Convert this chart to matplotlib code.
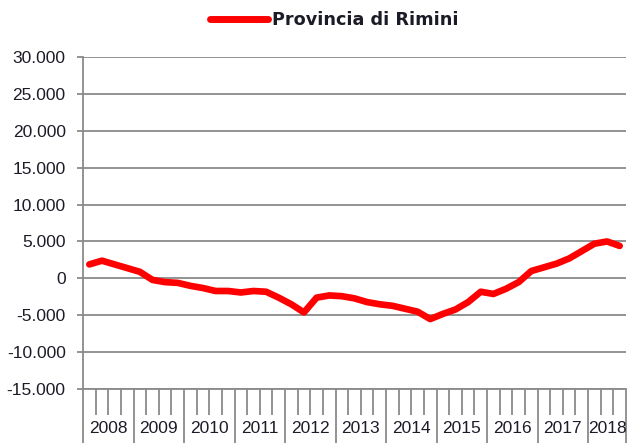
#!/usr/bin/env python3
# -*- coding: utf-8 -*-

"""
Quarterly balance line, Provincia di Rimini (2008 Q1 - 2018 Q3)
"""

import numpy as np
import matplotlib
matplotlib.use('Agg')
import matplotlib.pyplot as plt
from matplotlib.ticker import FuncFormatter, FixedLocator
import matplotlib.transforms as mtransforms

# data, one value per quarter
years = ['2008', '2009', '2010', '2011', '2012', '2013',
         '2014', '2015', '2016', '2017', '2018']
quarters_per_year = [4, 4, 4, 4, 4, 4, 4, 4, 4, 4, 3]
rimini = [1900, 2400, 1900, 1400,
          900, -200, -500, -600,
          -1000, -1300, -1700, -1700,
          -1900, -1700, -1800, -2600,
          -3500, -4600, -2600, -2300,
          -2400, -2700, -3200, -3500,
          -3700, -4100, -4500, -5500,
          -4800, -4200, -3200, -1800,
          -2100, -1400, -500, 1000,
          1500, 2000, 2700, 3700,
          4700, 5000, 4400]
series_name = 'Provincia di Rimini'

GRID = '#8a8a8a'
TXT = '#1c1c28'

plt.rcParams['font.family'] = ['Liberation Sans', 'DejaVu Sans']

fig = plt.figure(figsize=(6.3, 4.43), dpi=100)
ax = fig.add_axes([83 / 630, 1 - 389.3 / 443, 543 / 630, (389.3 - 56.7) / 443])

x = np.arange(len(rimini))
ax.plot(x, rimini, color='#ff0000', lw=4.8, solid_capstyle='round',
        solid_joinstyle='round', label=series_name, zorder=3)

ax.set_xlim(-0.5, len(rimini) - 0.5)
ax.set_ylim(-15000, 30000)
ax.set_yticks(np.arange(-15000, 30001, 5000))
ax.yaxis.set_major_formatter(FuncFormatter(
    lambda v, p: '0' if v == 0 else '{:,.0f}'.format(v).replace(',', '.')))
ax.grid(axis='y', color=GRID, lw=1.3)
ax.set_axisbelow(True)

for s in ['top', 'right']:
    ax.spines[s].set_visible(False)
for s in ['left', 'bottom']:
    ax.spines[s].set_color(GRID)
    ax.spines[s].set_linewidth(1.3)

ax.tick_params(axis='y', length=4.5, width=1.3, color=GRID, labelsize=12.5,
               labelcolor=TXT, pad=8)

# year boundaries -> long ticks, quarter boundaries -> short ticks
bounds = np.concatenate([[0], np.cumsum(quarters_per_year)]) - 0.5
quarter_bounds = [b for b in np.arange(0.5, len(rimini) - 0.5, 1.0) if b not in bounds]
ax.xaxis.set_major_locator(FixedLocator(bounds))
ax.xaxis.set_minor_locator(FixedLocator(quarter_bounds))
ax.tick_params(axis='x', which='major', length=40, width=1.3, color=GRID,
               labelbottom=False)
ax.tick_params(axis='x', which='minor', length=19, width=1.3, color=GRID)

trans = mtransforms.blended_transform_factory(ax.transData, ax.transAxes)
for i, yr in enumerate(years):
    xc = (bounds[i] + bounds[i + 1]) / 2
    ax.text(xc, -0.117, yr, transform=trans, ha='center', va='center',
            fontsize=12.5, color=TXT)

leg = fig.legend(loc='center', bbox_to_anchor=(0.530, 0.955), frameon=False,
                 handlelength=3.3, handletextpad=0.23,
                 prop={'family': 'DejaVu Sans', 'weight': 'bold', 'size': 12.7})
for line in leg.get_lines():
    line.set_linewidth(5)
for t in leg.get_texts():
    t.set_color(TXT)

fig.savefig('out.png', dpi=100)
